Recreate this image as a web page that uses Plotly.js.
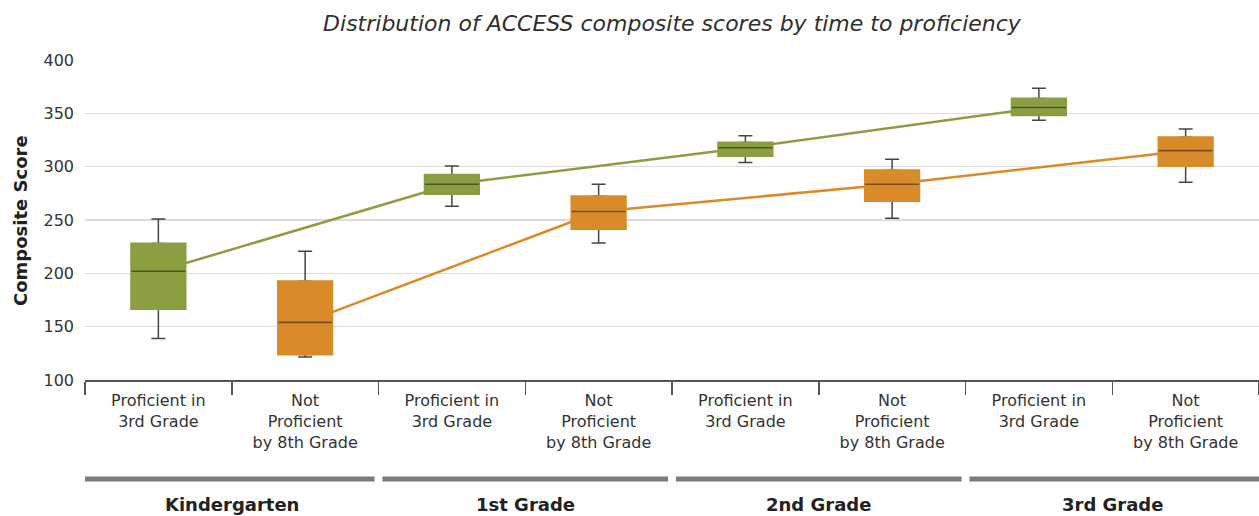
<!DOCTYPE html>
<html>
<head>
<meta charset="utf-8">
<script src="https://cdn.plot.ly/plotly-3.0.1.min.js"></script>
<style>html,body{margin:0;padding:0;background:#fff;}#chart{width:1259px;height:516px;}</style>
</head>
<body>
<div id="chart"></div>
<script>
// ---- data ----
const grades = ["Kindergarten", "1st Grade", "2nd Grade", "3rd Grade"];
const groupLabels = ["Proficient in<br>3rd Grade", "Not<br>Proficient<br>by 8th Grade"];

const profLower  = [139, 263, 304, 343.5];
const profQ1     = [166.6, 274.4, 310, 348.2];
const profMedian = [202, 283.5, 317.8, 355.4];
const profQ3     = [228, 292.5, 322.6, 364];
const profUpper  = [251, 300.6, 329, 373.5];

const notLower  = [121.6, 228.4, 251.6, 285.3];
const notQ1     = [123.8, 241.6, 267.8, 300.6];
const notMedian = [154, 257.9, 283.5, 315];
const notQ3     = [192.5, 272.2, 296.6, 327.5];
const notUpper  = [220.7, 283.5, 306.9, 335.3];

const yTicks = [100, 150, 200, 250, 300, 350, 400];

// ---- styles ----
const GREEN = "#8a9e42", ORANGE = "#d98b2a";
const FONT = "DejaVu Sans";
const BOXW = 0.37;

const profX = grades.map((g, i) => 2 * i);
const notX = grades.map((g, i) => 2 * i + 1);
const catX = [], catText = [];
grades.forEach((g, i) => { groupLabels.forEach((l, j) => { catX.push(2 * i + j); catText.push(l); }); });
const bounds = [];
for (let k = 0; k <= catX.length; k++) bounds.push(k - 0.5);

// box body only (whiskers are drawn separately in dark grey)
function boxTrace(x, q1, med, q3, color) {
  return {
    type: "box", x: x, q1: q1, median: med, q3: q3, lowerfence: q1, upperfence: q3,
    xaxis: "x2", yaxis: "y2", width: BOXW, fillcolor: color,
    line: { color: color, width: 2 }, whiskerwidth: 0, hoverinfo: "skip", showlegend: false
  };
}
// whiskers live on the lower subplot so the boxes hide their inner end
function whiskerTrace(x, base, ends, up) {
  const diff = ends.map((e, i) => Math.abs(e - base[i]));
  const zero = diff.map(() => 0);
  return {
    type: "scatter", mode: "markers", x: x, y: base,
    marker: { size: 0.1, color: "rgba(0,0,0,0)" }, hoverinfo: "skip", showlegend: false,
    error_y: { type: "data", symmetric: false, array: up ? diff : zero,
      arrayminus: up ? zero : diff, color: "#454545", thickness: 1.5, width: 7 }
  };
}
function medianTrace(x, med, color) {
  return {
    type: "scatter", mode: "markers", x: x, y: med, xaxis: "x2", yaxis: "y2",
    marker: { symbol: "line-ew", size: 38.5, line: { color: color, width: 1.6 } },
    hoverinfo: "skip", showlegend: false
  };
}

const traces = [
  { type: "scatter", mode: "lines", x: profX, y: profMedian, line: { color: GREEN, width: 2.5 }, hoverinfo: "skip", showlegend: false },
  { type: "scatter", mode: "lines", x: notX, y: notMedian, line: { color: ORANGE, width: 2.5 }, hoverinfo: "skip", showlegend: false },
  whiskerTrace(profX, profQ3, profUpper, true),
  whiskerTrace(profX, profQ1, profLower, false),
  whiskerTrace(notX, notQ3, notUpper, true),
  whiskerTrace(notX, notQ1, notLower, false),
  boxTrace(profX, profQ1, profMedian, profQ3, GREEN),
  boxTrace(notX, notQ1, notMedian, notQ3, ORANGE),
  medianTrace(profX, profMedian, "#4b562c"),
  medianTrace(notX, notMedian, "#74501f")
];

const shapes = grades.map((g, i) => ({
  type: "line", xref: "x", yref: "paper",
  x0: 2 * i - 0.5 + (i > 0 ? 0.027 : 0), x1: 2 * i + 1.5 - (i < grades.length - 1 ? 0.027 : 0),
  y0: -0.309, y1: -0.309, line: { color: "#7f7a73", width: 5 }
}));

const annotations = grades.map((g, i) => ({
  text: g, xref: "x", yref: "paper", x: 2 * i + 0.5, y: -0.39, yanchor: "middle",
  showarrow: false, font: { family: FONT, size: 18, color: "#222", weight: 700 }
}));
annotations.push({
  text: "Composite Score", xref: "paper", yref: "paper", x: -0.0554, y: 0.5, textangle: -90,
  xanchor: "center", yanchor: "middle", showarrow: false,
  font: { family: FONT, size: 18, color: "#222", weight: 700 }
});

const range = [-0.5, catX.length - 0.5];
const layout = {
  width: 1259, height: 516,
  margin: { l: 85, r: 0, t: 60, b: 136 },
  paper_bgcolor: "#fff", plot_bgcolor: "#fff",
  showlegend: false,
  title: { text: "Distribution of ACCESS composite scores by time to proficiency",
    xref: "paper", x: 0.5, xanchor: "center", yref: "container", y: 0.955, yanchor: "middle",
    font: { family: FONT, size: 22, color: "#2f2f2f", style: "italic" } },
  xaxis: { range: range, tickmode: "array", tickvals: catX, ticktext: catText, ticks: "",
    showgrid: false, zeroline: false, showline: false, ticklabelstandoff: 9,
    tickfont: { family: FONT, size: 16, color: "#333" } },
  yaxis: { range: [100, 400], tickmode: "array", tickvals: yTicks, showgrid: true,
    gridcolor: "#dcdcdc", gridwidth: 1.3, zeroline: false, showline: false, ticks: "",
    ticklabelstandoff: 10, tickfont: { family: FONT, size: 16, color: "#333" } },
  xaxis2: { overlaying: "x", anchor: "y2", range: range, tickmode: "array", tickvals: bounds,
    showticklabels: false, ticks: "outside", ticklen: 13, tickwidth: 1.5, tickcolor: "#555",
    showline: true, linecolor: "#555", linewidth: 1.5, showgrid: false, zeroline: false },
  yaxis2: { overlaying: "y", anchor: "x2", range: [100, 400], visible: false },
  shapes: shapes,
  annotations: annotations
};

Plotly.newPlot("chart", traces, layout, { displayModeBar: false, staticPlot: true });
</script>
</body>
</html>
